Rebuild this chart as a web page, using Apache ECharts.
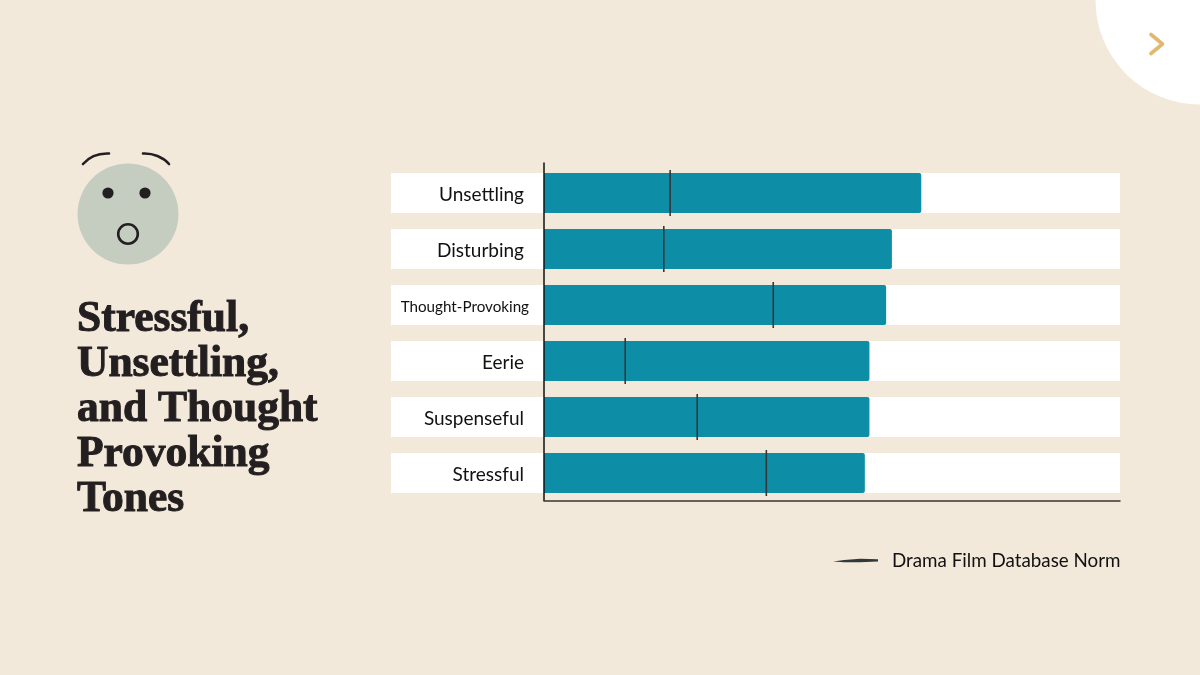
<!DOCTYPE html>
<html>
<head>
<meta charset="utf-8">
<style>html,body{margin:0;padding:0;background:#f3e9db}#c{width:1200px;height:675px}</style>
<script src="https://cdn.jsdelivr.net/npm/echarts@6/dist/echarts.min.js"></script>
</head>
<body>
<div id="c"></div>
<script>
const categories = ['Unsettling','Disturbing','Thought-Provoking','Eerie','Suspenseful','Stressful'];
const filmValues = [65.5,60.4,59.4,56.5,56.5,55.7];
const normValues = [21.9,20.8,39.8,14.1,26.6,38.6];
const trackMax = 100;
const trackMin = -26.56;
const titleText = 'Stressful,\nUnsettling,\nand Thought\nProvoking\nTones';
const legendName = 'Drama Film Database Norm';

const ink = '#231f20';
const chart = echarts.init(document.getElementById('c'), null, {renderer:'canvas'});
chart.setOption({
  animation:false,
  backgroundColor:'#f3e9db',
  textStyle:{fontFamily:'Lato'},
  title:{
    text:titleText, left:72, top:292,
    textStyle:{fontFamily:'"Liberation Serif"',fontWeight:'bold',fontSize:43.5,lineHeight:45,color:ink,
      textBorderColor:ink,textBorderWidth:1}
  },
  legend:{
    show:true, data:[{name:legendName,icon:'path://M0 7 L25 4 L60 1 L100 2 L100 7 L60 9 L25 9 Z'}],
    left:833, top:551, padding:0, itemWidth:45, itemHeight:5,
    textStyle:{fontFamily:'Lato',fontSize:18.8,color:'#111',padding:[0,0,0,9]}
  },
  grid:[
    {left:391,width:729,top:165,height:336,containLabel:false},
    {left:544,width:576,top:163,height:337.5,containLabel:false},
    {left:391,width:133,top:167,height:336,containLabel:false}
  ],
  xAxis:[
    {gridIndex:0,type:'value',min:trackMin,max:trackMax,show:false},
    {gridIndex:1,type:'value',min:0,max:1,z:10,splitLine:{show:false},axisTick:{show:false},axisLabel:{show:false},
     axisLine:{show:true,lineStyle:{color:'#3a3536',width:1.5}}},
    {gridIndex:2,type:'value',min:0,max:1,show:false}
  ],
  yAxis:[
    {gridIndex:0,type:'category',inverse:true,data:categories,show:false},
    {gridIndex:1,type:'value',min:0,max:1,z:10,splitLine:{show:false},axisTick:{show:false},axisLabel:{show:false},
     axisLine:{show:true,lineStyle:{color:'#111',width:1.5}}},
    {gridIndex:2,type:'category',inverse:true,z:10,
     data:categories.map(c=>c==='Thought-Provoking'
       ?{value:c,textStyle:{fontSize:15.2,padding:[0,-5,0,0]}}:{value:c}),
     axisLine:{show:false},axisTick:{show:false},splitLine:{show:false},
     axisLabel:{margin:-133,color:'#111',fontSize:19,fontFamily:'Lato'}}
  ],
  series:[
    {type:'bar',name:'trackLeft',xAxisIndex:0,yAxisIndex:0,data:categories.map(()=>trackMin),barWidth:40,barGap:'-100%',
     itemStyle:{color:'#fff'},silent:true},
    {type:'bar',name:'trackRight',xAxisIndex:0,yAxisIndex:0,data:categories.map(()=>trackMax),barWidth:40,barGap:'-100%',
     itemStyle:{color:'#fff'},silent:true},
    {type:'bar',name:'Film',xAxisIndex:0,yAxisIndex:0,data:filmValues,barWidth:40,barGap:'-100%',
     itemStyle:{color:'#0e8ea6',borderRadius:[0,2,2,0]},z:3},
    {type:'scatter',name:legendName,xAxisIndex:0,yAxisIndex:0,data:normValues.map((v,i)=>[v,i]),
     symbol:'rect',symbolSize:[1.6,46],itemStyle:{color:'#33383a',opacity:1},z:12}
  ],
  graphic:[
    {type:'circle',shape:{cx:1200,cy:0,r:104.5},style:{fill:'#fff'},z:0},
    {type:'polyline',shape:{points:[[1151,34.5],[1162.5,44],[1151,53.5]]},
     style:{stroke:'#e3b76f',lineWidth:3.6,lineCap:'round',lineJoin:'round',fill:null},z:1},
    {type:'circle',shape:{cx:128,cy:214,r:50.5},style:{fill:'#c5cdc1'},z:1},
    {type:'circle',shape:{cx:108,cy:193,r:5.6},style:{fill:ink},z:2},
    {type:'circle',shape:{cx:145,cy:193,r:5.6},style:{fill:ink},z:2},
    {type:'circle',shape:{cx:128,cy:234,r:9.8},style:{fill:'none',stroke:ink,lineWidth:2.6},z:2},
    {type:'bezierCurve',shape:{x1:83,y1:164,cpx1:89,cpx2:98,cpy1:157,cpy2:153,x2:109,y2:153.5},
     style:{stroke:ink,lineWidth:2.6,lineCap:'round',fill:null},z:2},
    {type:'bezierCurve',shape:{x1:143,y1:153.5,cpx1:153,cpx2:163,cpy1:153,cpy2:157,x2:169,y2:164},
     style:{stroke:ink,lineWidth:2.6,lineCap:'round',fill:null},z:2}
  ]
});
</script>
</body>
</html>
